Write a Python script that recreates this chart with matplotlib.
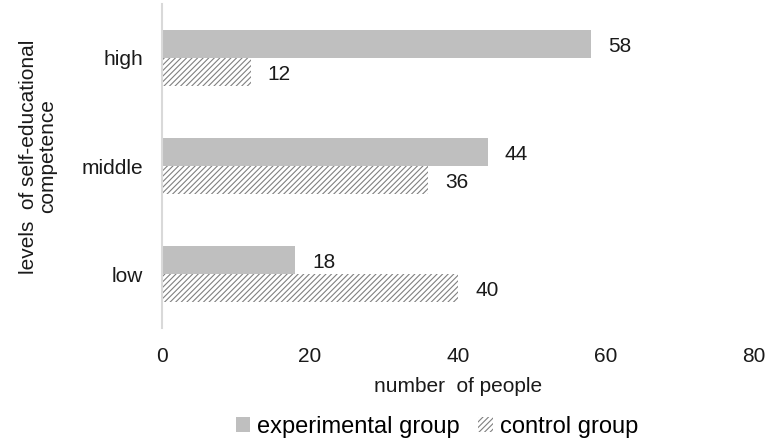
import numpy as np
import matplotlib
matplotlib.use("Agg")
from matplotlib import pyplot as plt

plt.rcParams['font.family'] = ['Liberation Sans', 'DejaVu Sans']
plt.rcParams['hatch.linewidth'] = 0.8

categories = ['low', 'middle', 'high']
experimental = [18, 44, 58]
control = [40, 36, 12]
x_ticks = [0, 20, 40, 60, 80]

fig = plt.figure(figsize=(7.69, 4.38), dpi=100)
ax = fig.add_axes([0.2107, 0.251, 0.7698, 0.740])

y = np.arange(len(categories))
h = 0.26
b1 = ax.barh(y + h / 2, experimental, height=h, color='#bfbfbf', label='experimental group')
b2 = ax.barh(y - h / 2, control, height=h, color='white', edgecolor='#808080',
             linewidth=0, hatch='//////', label='control group')

fs = 15
for bars, vals in [(b1, experimental), (b2, control)]:
    for bar, v in zip(bars, vals):
        ax.text(v + 2.3, bar.get_y() + bar.get_height() / 2 - 0.02, str(v),
                va='center', ha='left', fontsize=fs, color='#1a1a1a')

ax.set_xlim(0, 80)
ax.set_ylim(-0.5, 2.5)
ax.set_xticks(x_ticks)
ax.set_yticks(y)
ax.set_yticklabels(categories)
ax.tick_params(axis='both', length=0, labelsize=fs, colors='#1a1a1a')
ax.tick_params(axis='x', pad=13.5)
ax.tick_params(axis='y', pad=13.5)
for s in ['top', 'right', 'bottom']:
    ax.spines[s].set_visible(False)
ax.spines['left'].set_color('#d9d9d9')
ax.spines['left'].set_linewidth(1.5)

ax.set_xlabel('number  of people', fontsize=fs, color='#1a1a1a', labelpad=8)
fig.text(0.049, 0.643, 'levels  of self-educational\ncompetence', rotation=90,
         ha='center', va='center', fontsize=fs, color='#1a1a1a', linespacing=1.0)

fig.legend(handles=[b1, b2], loc='center', bbox_to_anchor=(0.568, 0.025), ncol=2,
           frameon=False, fontsize=17, handlelength=0.6, handleheight=0.6,
           handletextpad=0.3, columnspacing=0.8)

fig.savefig('out.png', dpi=100)
